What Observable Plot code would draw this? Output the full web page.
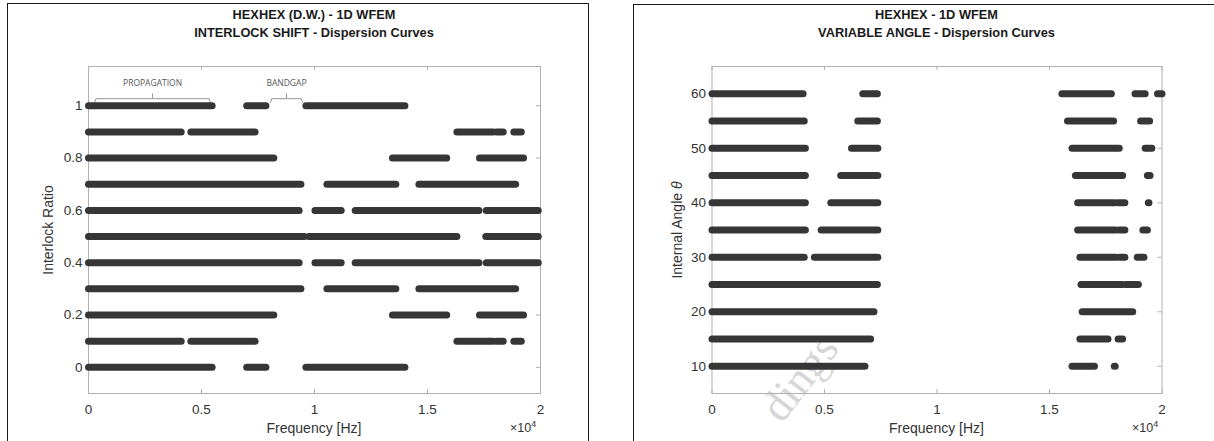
<!DOCTYPE html>
<html><head><meta charset="utf-8">
<script src="https://cdn.jsdelivr.net/npm/d3@7"></script>
<script src="https://cdn.jsdelivr.net/npm/@observablehq/plot@0.6"></script>
<style>
body{margin:0;background:#fff;}
#root{position:relative;width:1214px;height:441px;overflow:hidden;background:#fff;font-family:"Liberation Sans",Arial,sans-serif;color:#333;}
.panel{position:absolute;border:1.6px solid #1a1a1a;border-bottom:none;}
.title{position:absolute;top:6px;font-weight:bold;font-size:12.8px;color:#1a1a1a;text-align:center;line-height:18px;transform:translateX(-50%);white-space:nowrap;}
.xlabel{position:absolute;top:420px;line-height:16px;font-size:14px;transform:translateX(-50%);white-space:nowrap;}
.ylabel{position:absolute;font-size:14px;line-height:16px;transform:translate(-50%,-50%) rotate(-90deg);white-space:nowrap;}
.exp{position:absolute;top:421px;font-size:12.5px;line-height:15px;white-space:nowrap;}
.exp sup{font-size:9px;line-height:0;vertical-align:5px;}
.chart{position:absolute;top:0;}
.wm{position:absolute;left:800px;top:378px;font-family:"Liberation Serif","DejaVu Serif",serif;font-size:44px;line-height:44px;color:#d6d6d6;transform:translate(-50%,-50%) rotate(-52deg);white-space:nowrap;}
</style></head><body>
<div id="root">
  <div class="panel" style="left:7px;top:3px;width:580px;height:460px;"></div>
  <div class="panel" style="left:633px;top:4px;width:600px;height:460px;border-right:none;"></div>
  <div class="wm">dings</div>
  <div id="left" class="chart" style="left:0;"></div>
  <div id="right" class="chart" style="left:607px;"></div>
  <div class="title" style="left:314px;">HEXHEX (D.W.) - 1D WFEM<br>INTERLOCK SHIFT - Dispersion Curves</div>
  <div class="title" style="left:936.5px;">HEXHEX - 1D WFEM<br>VARIABLE ANGLE - Dispersion Curves</div>
  <div class="xlabel" style="left:314px;">Frequency [Hz]</div>
  <div class="xlabel" style="left:936.5px;">Frequency [Hz]</div>
  <div class="ylabel" style="left:48px;top:229.5px;">Interlock Ratio</div>
  <div class="ylabel" style="left:677px;top:229.5px;">Internal Angle <i>θ</i></div>
  <div class="exp" style="left:510px;">×10<sup>4</sup></div>
  <div class="exp" style="left:1132px;">×10<sup>4</sup></div>
</div>
<script>
// Tick values
const freqTicks = [0, 0.5, 1, 1.5, 2];          // frequency, ×10^4 Hz
const ratioTicks = [0, 0.2, 0.4, 0.6, 0.8, 1];
const angleTicks = [10, 20, 30, 40, 50, 60];

// Interlock shift propagation bands: [ratio, start, end] (×10^4 Hz)
const shiftSegments = [
  [0, 0, 0.547], [0, 0.70, 0.785], [0, 0.962, 1.40],
  [0.1, 0, 0.41], [0.1, 0.453, 0.737], [0.1, 1.63, 1.79], [0.1, 1.805, 1.835], [0.1, 1.882, 1.915],
  [0.2, 0, 0.82], [0.2, 1.345, 1.585], [0.2, 1.73, 1.925],
  [0.3, 0, 0.94], [0.3, 1.055, 1.36], [0.3, 1.462, 1.89],
  [0.4, 0, 0.932], [0.4, 1.002, 1.118], [0.4, 1.18, 1.728], [0.4, 1.76, 1.99],
  [0.5, 0, 0.955], [0.5, 0.975, 1.63], [0.5, 1.758, 1.99],
  [0.6, 0, 0.932], [0.6, 1.002, 1.118], [0.6, 1.18, 1.728], [0.6, 1.76, 1.99],
  [0.7, 0, 0.94], [0.7, 1.055, 1.36], [0.7, 1.462, 1.89],
  [0.8, 0, 0.82], [0.8, 1.345, 1.585], [0.8, 1.73, 1.925],
  [0.9, 0, 0.41], [0.9, 0.453, 0.737], [0.9, 1.63, 1.79], [0.9, 1.805, 1.835], [0.9, 1.882, 1.915],
  [1, 0, 0.547], [1, 0.70, 0.785], [1, 0.962, 1.40]
];

// Variable angle propagation bands: [angle, start, end] (×10^4 Hz)
const angleSegments = [
  [60, 0, 0.405], [60, 0.67, 0.735], [60, 1.555, 1.775], [60, 1.88, 1.925], [60, 1.98, 2.0],
  [55, 0, 0.41], [55, 0.648, 0.735], [55, 1.58, 1.785], [55, 1.905, 1.945],
  [50, 0, 0.415], [50, 0.62, 0.737], [50, 1.60, 1.81], [50, 1.925, 1.955],
  [45, 0, 0.415], [45, 0.572, 0.737], [45, 1.615, 1.79], [45, 1.80, 1.825], [45, 1.935, 1.947],
  [40, 0, 0.415], [40, 0.528, 0.737], [40, 1.625, 1.79], [40, 1.805, 1.835], [40, 1.939, 1.942],
  [35, 0, 0.415], [35, 0.485, 0.737], [35, 1.625, 1.795], [35, 1.81, 1.835], [35, 1.915, 1.935],
  [30, 0, 0.41], [30, 0.455, 0.737], [30, 1.635, 1.795], [30, 1.81, 1.835], [30, 1.89, 1.92],
  [25, 0, 0.735], [25, 1.64, 1.825], [25, 1.84, 1.895],
  [20, 0, 0.72], [20, 1.645, 1.87],
  [15, 0, 0.705], [15, 1.635, 1.76], [15, 1.805, 1.825],
  [10, 0, 0.68], [10, 1.60, 1.70], [10, 1.788, 1.792]
];

// Annotations on the interlock chart
const bracketLabels = ["PROPAGATION", "BANDGAP"];
const bracketFrom = [0.027, 0.805];
const bracketTo = [0.54, 0.947];

const AXIS = "#b0b0b0";
const BAR = "#363636";
const HEIGHT = 441, MT = 66, MB = 48;

function makeChart({width, marginLeft, marginRight, segments, yDomain, yTicks, extra = []}) {
  const W = width - marginLeft - marginRight;
  const H = HEIGHT - MT - MB;
  const rows = segments.map(([v, s, e]) => ({v, s, e}));
  return Plot.plot({
    width, height: HEIGHT,
    marginLeft, marginRight, marginTop: MT, marginBottom: MB,
    style: {fontFamily: "Liberation Sans, Arial, sans-serif", fontSize: "13.5px", color: "#333", background: "transparent", overflow: "visible"},
    x: {domain: [0, 2]},
    y: {domain: yDomain},
    marks: [
      Plot.frame({stroke: AXIS, strokeWidth: 1}),
      Plot.tickX(freqTicks, {x: d => d, stroke: AXIS, insetTop: H - 4}),
      Plot.tickX(freqTicks, {x: d => d, stroke: AXIS, insetBottom: H - 4}),
      Plot.tickY(yTicks, {y: d => d, stroke: AXIS, insetRight: W - 4}),
      Plot.tickY(yTicks, {y: d => d, stroke: AXIS, insetLeft: W - 4}),
      Plot.axisX(freqTicks, {tickSize: 0, tickPadding: 11, label: null, tickFormat: d => String(d)}),
      Plot.axisY(yTicks, {tickSize: 0, tickPadding: 6, label: null, tickFormat: d => String(d)}),
      ...extra,
      Plot.link(rows, {x1: "s", x2: "e", y1: "v", y2: "v", stroke: BAR, strokeWidth: 7, strokeLinecap: "round"})
    ]
  });
}

// bracket geometry derived from annotation arrays
const braceLines = [];
bracketLabels.forEach((lab, i) => {
  const a = bracketFrom[i], b = bracketTo[i];
  braceLines.push({id: i, x: a, y: 1.012}, {id: i, x: a + 0.006, y: 1.027}, {id: i, x: b - 0.006, y: 1.027}, {id: i, x: b, y: 1.012});
});
const braceMids = bracketLabels.map((lab, i) => ({label: lab, x: (bracketFrom[i] + bracketTo[i]) / 2}));

const annotationMarks = [
  Plot.line(braceLines, {x: "x", y: "y", z: "id", stroke: "#8a8a8a", strokeWidth: 0.9}),
  Plot.ruleX(braceMids, {x: "x", y1: 1.027, y2: 1.045, stroke: "#8a8a8a", strokeWidth: 0.9}),
  Plot.text(braceMids, {x: "x", y: 1.084, text: "label", fontSize: 8.5, fontFamily: "Open Sans, sans-serif", fill: "#555"})
];

document.getElementById("left").appendChild(makeChart({
  width: 600, marginLeft: 88, marginRight: 60,
  segments: shiftSegments, yDomain: [-0.1, 1.15], yTicks: ratioTicks, extra: annotationMarks
}));
document.getElementById("right").appendChild(makeChart({
  width: 607, marginLeft: 104.5, marginRight: 52.5,
  segments: angleSegments, yDomain: [5, 65], yTicks: angleTicks
}));
</script>
</body></html>
